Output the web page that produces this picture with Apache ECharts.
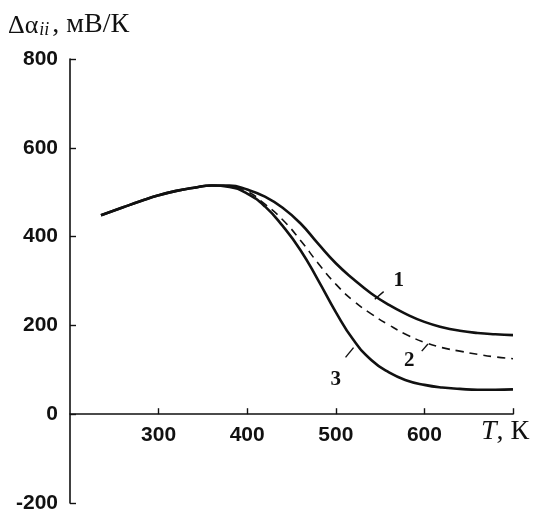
<!DOCTYPE html>
<html>
<head>
<meta charset="utf-8">
<script src="https://cdn.jsdelivr.net/npm/echarts@6/dist/echarts.min.js"></script>
<style>html,body{margin:0;padding:0;background:#fff;}#c{width:534px;height:509px;}</style>
</head>
<body>
<div id="c"></div>
<script>
// Temperature, K
const temps = [235, 260, 280, 300, 320, 340, 360, 380, 400, 420, 440, 460, 480, 500, 520, 540, 560, 580, 600, 620, 640, 660, 680, 700];
// Δα_ii, мВ/К
const curve1 = [448, 466, 480, 493, 503, 510, 515, 515, 506, 490, 465, 430, 384, 340, 304, 272, 246, 225, 208, 196, 188, 183, 180, 178];
const curve2 = [448, 466, 480, 493, 503, 510, 515, 514, 502, 473, 438, 392, 340, 293, 255, 226, 201, 179, 162, 150, 142, 135, 129, 125];
const curve3 = [448, 466, 480, 493, 503, 510, 515, 512, 497, 468, 424, 370, 302, 230, 167, 122, 94, 76, 66, 60, 57, 55, 55, 56];
const xTickValues = [300, 400, 500, 600, 700];
const xTicksShown = [300, 400, 500, 600];
const yTickValues = [-200, 0, 200, 400, 600, 800];
const curveNames = ['1', '2', '3'];
// label anchor points and leader segments, in data coordinates
const labelPos = [[571, 302], [583, 121], [500, 78]];
const leaders = [[[544, 259], [554, 276]], [[597, 142], [604, 158]], [[511, 128], [520, 150]]];
const xMin = 200, xMax = 700, yMin = -200, yMax = 800;

const pairs = (ys) => temps.map((t, i) => [t, ys[i]]);
const ink = '#111';
const gridLeft = 70, gridRight = 21, gridTop = 59, gridBottom = 6, W = 534, H = 509;
const plotH = H - gridTop - gridBottom;
const plotW = W - gridLeft - gridRight;
// shift the x axis up from the grid bottom to the y = 0 level
const zeroOffset = -Math.round(plotH * (0 - yMin) / (yMax - yMin));
const tickLenPx = 6;
const tickDY = tickLenPx * (yMax - yMin) / plotH;
const tickDX = tickLenPx * (xMax - xMin) / plotW;

// inward tick marks as segments in data space
const tickSegments = xTickValues.map(v => [{ coord: [v, 0] }, { coord: [v, tickDY] }])
  .concat(yTickValues.map(v => [{ coord: [xMin, v] }, { coord: [xMin + tickDX, v] }]));

function makeSeries(idx, ys, dashed) {
  const s = {
    type: 'line',
    data: pairs(ys),
    showSymbol: false,
    smooth: 0.5,
    z: dashed ? 3 : 4,
    lineStyle: dashed ? { color: ink, width: 1.6, type: [8, 6] } : { color: ink, width: 2.6 },
    markPoint: {
      silent: true,
      symbol: 'circle', symbolSize: 1,
      itemStyle: { color: 'rgba(0,0,0,0)' },
      label: { show: true, position: 'inside', formatter: curveNames[idx], color: ink, fontFamily: 'Liberation Serif', fontWeight: 'bold', fontSize: 21 },
      data: [{ coord: labelPos[idx] }]
    },
    markLine: {
      silent: true,
      symbol: ['none', 'none'],
      label: { show: false },
      lineStyle: { color: ink, width: 1.4, type: 'solid' },
      data: [[{ coord: leaders[idx][0] }, { coord: leaders[idx][1] }]]
    }
  };
  if (idx === 0) {
    s.markLine.data = s.markLine.data.concat(tickSegments);
  }
  return s;
}

const chart = echarts.init(document.getElementById('c'), null, { renderer: 'canvas' });
chart.setOption({
  animation: false,
  backgroundColor: '#fff',
  title: {
    left: 3, top: 4,
    text: '{a|Δα}{s|ii}{b|, мВ/К}',
    textStyle: {
      fontWeight: 'normal',
      rich: {
        a: { fontFamily: 'Liberation Serif', fontWeight: 'normal', fontSize: 26, color: ink, lineHeight: 30, verticalAlign: 'bottom' },
        s: { fontFamily: 'Liberation Serif', fontWeight: 'normal', fontStyle: 'italic', fontSize: 18, color: ink, lineHeight: 12, verticalAlign: 'bottom', padding: [0, 3, 0, 1] },
        b: { fontFamily: 'Liberation Serif', fontWeight: 'normal', fontSize: 28, color: ink, lineHeight: 30, verticalAlign: 'bottom' }
      }
    }
  },
  grid: { left: gridLeft, right: gridRight, top: gridTop, bottom: gridBottom, containLabel: false, outerBoundsMode: 'none' },
  xAxis: {
    type: 'value', min: xMin, max: xMax, interval: 100,
    position: 'bottom', offset: zeroOffset,
    axisLine: { show: true, onZero: false, lineStyle: { color: ink, width: 1.6 } },
    axisTick: { show: false },
    axisLabel: {
      show: true, margin: 11, color: ink, fontFamily: 'Liberation Sans', fontWeight: 'bold', fontSize: 21,
      formatter: (v) => xTicksShown.includes(v) ? String(v) : ''
    },
    splitLine: { show: false }
  },
  yAxis: {
    type: 'value', min: yMin, max: yMax, interval: 200,
    axisLine: { show: true, onZero: false, lineStyle: { color: ink, width: 1.6 } },
    axisTick: { show: false },
    axisLabel: { margin: 12, color: ink, fontFamily: 'Liberation Sans', fontWeight: 'bold', fontSize: 21 },
    splitLine: { show: false }
  },
  graphic: [{
    type: 'text', left: 481, top: 418,
    style: {
      text: '{t|T}{k|, К}',
      rich: {
        t: { fontFamily: 'Liberation Serif', fontStyle: 'italic', fontSize: 28, fill: ink },
        k: { fontFamily: 'Liberation Serif', fontSize: 28, fill: ink }
      }
    }
  }],
  series: [makeSeries(0, curve1, false), makeSeries(1, curve2, true), makeSeries(2, curve3, false)]
});
</script>
</body>
</html>
